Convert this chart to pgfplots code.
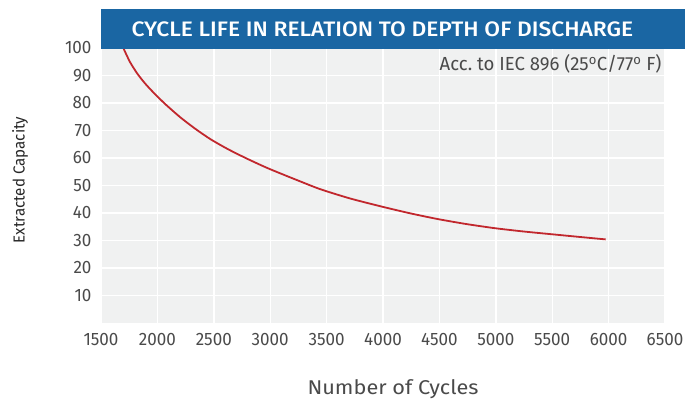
\documentclass[border=0pt]{standalone}
\usepackage{pgfplots}
\pgfplotsset{compat=1.18}
\usepackage{fontspec}
\setmainfont{Fira Sans}[FakeStretch=0.95]
\newfontfamily\titlefont{Fira Sans Medium}[FakeStretch=1.09]
\newfontfamily\annofont{Fira Sans}[FakeStretch=0.98]
\newfontfamily\xlabfont{Fira Sans}[FakeStretch=1.09]
\definecolor{titleblue}{HTML}{1A66A3}
\definecolor{bggrey}{HTML}{F0F1F1}
\definecolor{curvered}{HTML}{C1272D}
\definecolor{txtgrey}{HTML}{4A4A4A}
\pgfplotstableread{
x y
1690 101
1698 100
1757 94.9
1825 90.5
1895 86.9
1970 83.6
2067 79.7
2200 74.9
2333 70.7
2472 66.8
2626 63.2
2792 59.8
2978 56.3
3211 52.4
3441 48.7
3707 45.3
3982 42.4
4239 39.9
4485 37.8
4736 36.0
4987 34.5
5241 33.3
5489 32.3
5729 31.35
5974 30.4
}\capdata
\begin{document}
\begin{tikzpicture}[x=1bp,y=1bp]
\path[use as bounding box] (0,0) rectangle (685,403);
\begin{axis}[
  at={(101bp,80bp)}, anchor=south west,
  width=564bp, height=275bp, scale only axis,
  xmin=1500, xmax=6500, ymin=0, ymax=100,
  xtick={1500,2000,...,6500}, ytick={10,20,...,100},
  grid=major, major grid style={white, line width=1.4bp},
  axis background/.style={fill=bggrey},
  axis line style={draw=none},
  tick style={draw=none},
  /pgf/number format/assume math mode=true,
  /pgf/number format/1000 sep={},
  ticklabel style={font=\fontsize{18}{20}\selectfont, text=txtgrey},
  yticklabel style={anchor=east, xshift=-6bp},
  xticklabel style={anchor=north, yshift=-7bp},
  clip=true,
]
\addplot[curvered, line width=1.8bp, smooth, tension=0.4] table[x=x, y=y] {\capdata};
\end{axis}
\fill[titleblue] (101,354) rectangle (685,394);
\node[anchor=west, text=white, font=\titlefont\fontsize{21}{23}\selectfont] at (128,374) {CYCLE LIFE IN RELATION TO DEPTH OF DISCHARGE};
\node[anchor=east, text=txtgrey, font=\annofont\fontsize{19}{21}\selectfont] at (665,339) {Acc.\ to IEC 896 (25\textsuperscript{o}C/77\textsuperscript{o} F)};
\node[rotate=90, text=black!85, font=\fontsize{16}{18}\selectfont] at (20,223) {Extracted Capacity};
\node[text=txtgrey, font=\xlabfont\fontsize{20}{22}\selectfont] at (393,14) {Number of Cycles};
\end{tikzpicture}
\end{document}
